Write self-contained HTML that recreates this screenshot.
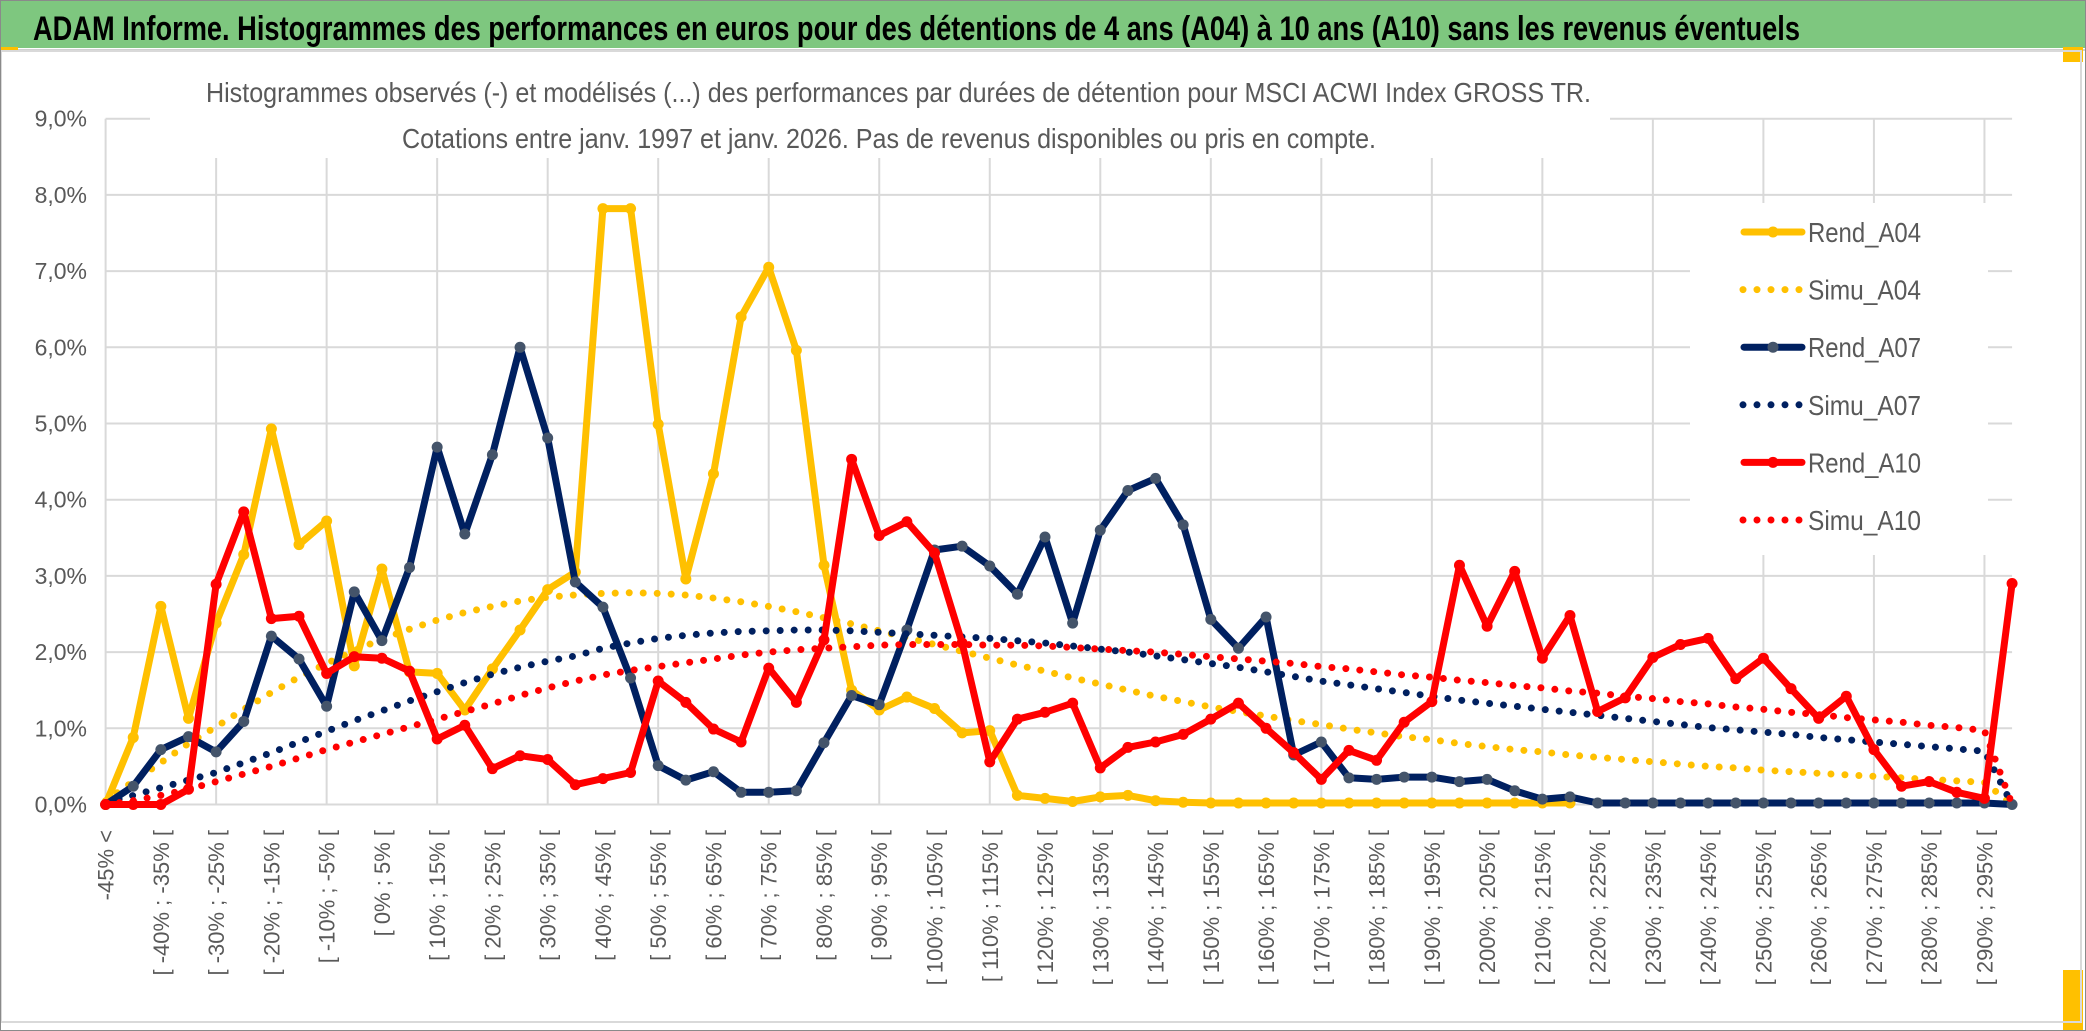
<!DOCTYPE html>
<html><head><meta charset="utf-8"><style>
html,body{margin:0;padding:0;background:#fff;}
svg{display:block;}
text{font-family:"Liberation Sans",sans-serif;}
</style></head><body>
<svg id="chart" width="2086" height="1031" viewBox="0 0 2086 1031" xmlns="http://www.w3.org/2000/svg">
<rect x="0" y="0" width="2086" height="1031" fill="#fff"/>
<rect x="0" y="0" width="2086" height="48" fill="#7ec77f"/>
<line x1="0" y1="50" x2="2086" y2="50" stroke="#d0d0d0" stroke-width="2"/>
<text x="33" y="40" font-size="34" font-weight="bold" fill="#000" textLength="1767" lengthAdjust="spacingAndGlyphs">ADAM Informe. Histogrammes des performances en euros pour des détentions de 4 ans (A04) à 10 ans (A10) sans les revenus éventuels</text>
<rect x="0" y="47" width="18" height="5" fill="#ffc000"/>
<rect x="2063" y="47" width="20" height="15" fill="#ffc000"/>
<rect x="2063" y="970" width="20" height="61" fill="#ffc000"/>
<rect x="1" y="51" width="2080" height="971" fill="none" stroke="#d9d9d9" stroke-width="2"/>
<rect x="0.5" y="0.5" width="2085" height="1030" fill="none" stroke="#8a8a8a" stroke-width="1"/>
<g id="grid"></g>
<rect x="150" y="78" width="1460" height="80" fill="#fff"/>
<text x="206" y="102" font-size="28" fill="#595959" textLength="1385" lengthAdjust="spacingAndGlyphs">Histogrammes observés (-) et modélisés (...) des performances par durées de détention pour MSCI ACWI Index GROSS TR.</text>
<text x="402" y="148" font-size="28" fill="#595959" textLength="974" lengthAdjust="spacingAndGlyphs">Cotations entre janv. 1997 et janv. 2026. Pas de revenus disponibles ou pris en compte.</text>
<g id="yaxis"></g>
<g id="xaxis"></g>
<g id="series"></g>
<g id="legend"></g>
</svg>
<script>
const categories = ["-45% <","[ -45% ; -40% [","[ -40% ; -35% [","[ -35% ; -30% [","[ -30% ; -25% [","[ -25% ; -20% [","[ -20% ; -15% [","[ -15% ; -10% [","[ -10% ; -5% [","[ -5% ; 0% [","[ 0% ; 5% [","[ 5% ; 10% [","[ 10% ; 15% [","[ 15% ; 20% [","[ 20% ; 25% [","[ 25% ; 30% [","[ 30% ; 35% [","[ 35% ; 40% [","[ 40% ; 45% [","[ 45% ; 50% [","[ 50% ; 55% [","[ 55% ; 60% [","[ 60% ; 65% [","[ 65% ; 70% [","[ 70% ; 75% [","[ 75% ; 80% [","[ 80% ; 85% [","[ 85% ; 90% [","[ 90% ; 95% [","[ 95% ; 100% [","[ 100% ; 105% [","[ 105% ; 110% [","[ 110% ; 115% [","[ 115% ; 120% [","[ 120% ; 125% [","[ 125% ; 130% [","[ 130% ; 135% [","[ 135% ; 140% [","[ 140% ; 145% [","[ 145% ; 150% [","[ 150% ; 155% [","[ 155% ; 160% [","[ 160% ; 165% [","[ 165% ; 170% [","[ 170% ; 175% [","[ 175% ; 180% [","[ 180% ; 185% [","[ 185% ; 190% [","[ 190% ; 195% [","[ 195% ; 200% [","[ 200% ; 205% [","[ 205% ; 210% [","[ 210% ; 215% [","[ 215% ; 220% [","[ 220% ; 225% [","[ 225% ; 230% [","[ 230% ; 235% [","[ 235% ; 240% [","[ 240% ; 245% [","[ 245% ; 250% [","[ 250% ; 255% [","[ 255% ; 260% [","[ 260% ; 265% [","[ 265% ; 270% [","[ 270% ; 275% [","[ 275% ; 280% [","[ 280% ; 285% [","[ 285% ; 290% [","[ 290% ; 295% [","[ 295% ; 300% ["];
const yTicks = [0,1,2,3,4,5,6,7,8,9];
const yTickLabels = ["0,0%","1,0%","2,0%","3,0%","4,0%","5,0%","6,0%","7,0%","8,0%","9,0%"];
const rendA04 = [0,0.88,2.6,1.13,2.38,3.28,4.93,3.41,3.72,1.82,3.09,1.74,1.72,1.24,1.78,2.29,2.82,3.05,7.82,7.82,4.99,2.96,4.34,6.4,7.05,5.96,3.14,1.5,1.24,1.41,1.26,0.94,0.97,0.12,0.08,0.04,0.1,0.12,0.05,0.03,0.02,0.02,0.02,0.02,0.02,0.02,0.02,0.02,0.02,0.02,0.02,0.02,0.02,0.02,null,null,null,null,null,null,null,null,null,null,null,null,null,null,null,null];
const simuA04 = [0.05,0.3,0.55,0.8,1.02,1.25,1.47,1.67,1.85,2.02,2.17,2.3,2.42,2.52,2.6,2.67,2.72,2.75,2.77,2.78,2.77,2.75,2.71,2.66,2.6,2.53,2.45,2.37,2.28,2.19,2.1,2.01,1.92,1.83,1.75,1.66,1.58,1.5,1.42,1.35,1.28,1.22,1.16,1.1,1.05,0.99,0.94,0.89,0.85,0.8,0.76,0.72,0.69,0.65,0.62,0.59,0.56,0.53,0.5,0.48,0.45,0.43,0.41,0.39,0.37,0.35,0.33,0.31,0.29,0];
const rendA07 = [0,0.24,0.72,0.89,0.69,1.09,2.21,1.91,1.29,2.79,2.15,3.11,4.69,3.55,4.59,6.0,4.81,2.92,2.59,1.66,0.51,0.32,0.43,0.16,0.16,0.18,0.81,1.43,1.31,2.29,3.34,3.39,3.13,2.76,3.51,2.38,3.6,4.12,4.28,3.67,2.43,2.05,2.46,0.65,0.82,0.35,0.33,0.36,0.36,0.3,0.33,0.18,0.07,0.1,0.02,0.02,0.02,0.02,0.02,0.02,0.02,0.02,0.02,0.02,0.02,0.02,0.02,0.02,0.02,0];
const simuA07 = [0.02,0.12,0.22,0.32,0.42,0.55,0.68,0.82,0.96,1.1,1.23,1.36,1.48,1.6,1.71,1.8,1.88,1.95,2.05,2.12,2.18,2.22,2.25,2.27,2.28,2.29,2.29,2.28,2.26,2.24,2.22,2.2,2.18,2.15,2.12,2.08,2.04,2.0,1.95,1.9,1.85,1.8,1.74,1.68,1.62,1.57,1.52,1.47,1.42,1.37,1.33,1.29,1.25,1.21,1.17,1.13,1.09,1.05,1.01,0.98,0.95,0.92,0.88,0.85,0.82,0.79,0.76,0.73,0.7,0];
const rendA10 = [0,0,0,0.2,2.89,3.84,2.44,2.47,1.72,1.94,1.92,1.75,0.86,1.04,0.47,0.64,0.59,0.26,0.34,0.42,1.62,1.34,0.99,0.82,1.79,1.34,2.16,4.53,3.53,3.71,3.3,2.12,0.56,1.12,1.21,1.33,0.48,0.75,0.82,0.92,1.12,1.33,1.0,0.68,0.33,0.71,0.58,1.08,1.35,3.14,2.34,3.06,1.92,2.48,1.22,1.4,1.93,2.1,2.18,1.65,1.92,1.52,1.13,1.42,0.72,0.24,0.3,0.16,0.08,2.9];
const simuA10 = [0,0.05,0.12,0.2,0.3,0.4,0.5,0.61,0.72,0.82,0.92,1.02,1.12,1.22,1.32,1.43,1.53,1.62,1.7,1.76,1.81,1.86,1.91,1.96,2.0,2.03,2.05,2.07,2.09,2.1,2.1,2.1,2.09,2.09,2.08,2.06,2.04,2.02,2.0,1.97,1.94,1.91,1.88,1.85,1.81,1.78,1.74,1.7,1.67,1.63,1.6,1.56,1.53,1.49,1.46,1.42,1.39,1.35,1.32,1.28,1.25,1.21,1.18,1.14,1.11,1.08,1.04,1.01,0.97,0];

const NS = "http://www.w3.org/2000/svg";
const X0 = 105.6, DX = 27.63, Y0 = 804.5, DY = 76.2;
function xPos(i){ return X0 + DX*i; }
function yPos(v){ return Y0 - DY*v; }
function mk(tag, attrs, parent){ const e=document.createElementNS(NS,tag); for(const k in attrs) e.setAttribute(k,attrs[k]); parent.appendChild(e); return e; }

const grid = document.getElementById('grid');
const xRight = xPos(categories.length-1);
yTicks.forEach(function(t){
  const l = mk('line',{x1:X0,x2:xRight,y1:yPos(t),y2:yPos(t),stroke:'#d9d9d9','stroke-width':2},grid);
  
  
});
for(let i=0;i<categories.length;i+=4){
  const l = mk('line',{x1:xPos(i),x2:xPos(i),y1:yPos(9),y2:yPos(0),stroke:'#d9d9d9','stroke-width':2},grid);
  
  
}

const yaxis = document.getElementById('yaxis');
yTicks.forEach(function(t,k){
  const tx = mk('text',{x:87,y:yPos(t)+8,'text-anchor':'end','font-size':23,fill:'#595959'},yaxis);
  tx.textContent = yTickLabels[k];
  
  
});

const xaxis = document.getElementById('xaxis');
categories.forEach(function(c,i){
  if(i%2!==0) return;
  const x = xPos(i), y = 830;
  const tx = mk('text',{x:x,y:y,transform:'rotate(-90 '+x+' '+y+')','text-anchor':'end','font-size':22,fill:'#595959',dy:'8'},xaxis);
  tx.textContent = c;
  
  
});

const series = document.getElementById('series');
function pathFor(vals){
  let d='', pen=false;
  vals.forEach(function(v,i){
    if(v===null){ pen=false; return; }
    d += (pen?'L':'M') + xPos(i).toFixed(1) + ' ' + yPos(v).toFixed(1) + ' ';
    pen=true;
  });
  return d;
}
function drawRend(vals, color, markerColor, name){
  const g = mk('g',{},series);
  
  
  const p = mk('path',{d:pathFor(vals),fill:'none',stroke:color,'stroke-width':7,'stroke-linejoin':'round','stroke-linecap':'round'},g);
  
  
  vals.forEach(function(v,i){
    if(v===null) return;
    const c = mk('circle',{cx:xPos(i),cy:yPos(v),r:5.5,fill:markerColor},g);
    
    
  });
}
function drawSimu(vals, color, name){
  const p = mk('path',{d:pathFor(vals),fill:'none',stroke:color,'stroke-width':7,'stroke-linecap':'round','stroke-dasharray':'0 14'},series);
  
  
}
drawRend(rendA04,'#ffc000','#ffc000','rend-a04');
drawSimu(simuA04,'#ffc000','simu-a04');
drawRend(rendA07,'#002060','#44546a','rend-a07');
drawSimu(simuA07,'#002060','simu-a07');
drawRend(rendA10,'#ff0000','#ff0000','rend-a10');
drawSimu(simuA10,'#ff0000','simu-a10');

const legend = document.getElementById('legend');
const lbg = mk('rect',{x:1690,y:203,width:298,height:352,fill:'#fff'},legend);


const legendNames = ['Rend_A04','Simu_A04','Rend_A07','Simu_A07','Rend_A10','Simu_A10'];
const legendColors = ['#ffc000','#ffc000','#002060','#002060','#ff0000','#ff0000'];
const legendMarkers = ['#ffc000',null,'#44546a',null,'#ff0000',null];
legendNames.forEach(function(n,k){
  const y = 232 + k*57.6;
  const g = mk('g',{},legend);
  
  
  if(legendMarkers[k]){
    mk('line',{x1:1744,x2:1802,y1:y,y2:y,stroke:legendColors[k],'stroke-width':7,'stroke-linecap':'round'},g);
    mk('circle',{cx:1773,cy:y,r:5.5,fill:legendMarkers[k]},g);
  } else {
    mk('line',{x1:1743,x2:1803,y1:y,y2:y,stroke:legendColors[k],'stroke-width':7,'stroke-linecap':'round','stroke-dasharray':'0 14'},g);
  }
  const t = mk('text',{x:1808,y:y+10,'font-size':28,fill:'#595959',textLength:113,lengthAdjust:'spacingAndGlyphs'},g);
  t.textContent = n;
});
</script>
</body></html>
